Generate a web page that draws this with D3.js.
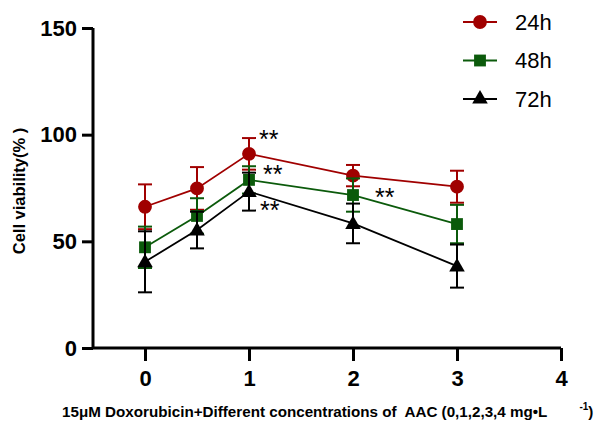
<!DOCTYPE html>
<html><head><meta charset="utf-8">
<script src="https://cdn.jsdelivr.net/npm/d3@7"></script>
<style>body{margin:0;background:#fff}svg{display:block}text{font-family:"Liberation Sans",Arial,sans-serif}</style>
</head><body>
<svg id="c" width="595" height="425"></svg>
<script>
const doses = [0, 0.5, 1, 2, 3];
const seriesNames = ["24h", "48h", "72h"];
const mean24 = [66.2, 74.8, 91.0, 80.8, 75.6];
const sd24   = [10.5, 10.0, 7.4, 5.0, 7.5];
const mean48 = [47.2, 61.9, 78.8, 71.7, 58.1];
const sd48   = [9.7, 8.3, 6.4, 7.8, 9.0];
const mean72 = [40.4, 55.3, 73.3, 58.4, 38.4];
const sd72   = [14.3, 8.6, 8.9, 9.3, 10.1];
const xTicks = [0, 1, 2, 3, 4];
const yTicks = [0, 50, 100, 150];
const sigMarks = [
  {series: "24h", dose: 1, label: "**"},
  {series: "48h", dose: 1, label: "**"},
  {series: "72h", dose: 1, label: "**"},
  {series: "48h", dose: 2, label: "**"}
];
const colors = {"24h": "#a00000", "48h": "#0b5a0b", "72h": "#000000"};
const shapes = {"24h": d3.symbolCircle, "48h": d3.symbolSquare, "72h": d3.symbolTriangle};
const symSize = {"24h": 150, "48h": 140, "72h": 105};

const series = [
  {name: "24h", mean: mean24, sd: sd24},
  {name: "48h", mean: mean48, sd: sd48},
  {name: "72h", mean: mean72, sd: sd72}
];

const svg = d3.select("#c");
const x = d3.scaleLinear().domain([-0.5, 4]).range([93, 561]);
const y = d3.scaleLinear().domain([0, 150]).range([348, 28]);

// axes
const yAxis = svg.append("g").attr("transform", "translate(93,0)")
  .call(d3.axisLeft(y).tickValues(yTicks).tickFormat(d3.format("d")).tickSize(11).tickPadding(5));
const xAxis = svg.append("g").attr("transform", "translate(0,348)")
  .call(d3.axisBottom(x).tickValues(xTicks).tickFormat(d3.format("d")).tickSize(13).tickPadding(9));
[yAxis, xAxis].forEach(a => {
  a.select(".domain").attr("stroke", "#000").attr("stroke-width", 3);
  a.selectAll(".tick line").attr("stroke", "#000").attr("stroke-width", 3);
  a.selectAll(".tick text").attr("fill", "#000").attr("font-size", 22).attr("font-weight", "bold")
    .style("font-family", "'Liberation Sans',Arial,sans-serif");
});
yAxis.select(".domain").attr("d", `M0,${y(150)}V${y(0)}`);
xAxis.select(".domain").attr("d", `M${x(-0.5)},0H${x(4)}`);

// series
series.forEach(s => {
  const g = svg.append("g");
  const c = colors[s.name];
  const pts = doses.map((d, i) => ({d, m: s.mean[i], sd: s.sd[i]}));
  pts.forEach(p => {
    const cx = x(p.d);
    g.append("line").attr("x1", cx).attr("x2", cx).attr("y1", y(p.m + p.sd)).attr("y2", y(p.m - p.sd))
      .attr("stroke", c).attr("stroke-width", 2);
    [p.m + p.sd, p.m - p.sd].forEach(v => {
      g.append("line").attr("x1", cx - 7).attr("x2", cx + 7).attr("y1", y(v)).attr("y2", y(v))
        .attr("stroke", c).attr("stroke-width", 2);
    });
  });
  g.append("path").datum(pts)
    .attr("d", d3.line().x(p => x(p.d)).y(p => y(p.m)))
    .attr("fill", "none").attr("stroke", c).attr("stroke-width", 1.8);
  g.selectAll("path.sym").data(pts).join("path").attr("class", "sym")
    .attr("transform", p => `translate(${x(p.d)},${y(p.m) + (s.name === "72h" ? 1 : 0)})`)
    .attr("d", d3.symbol(shapes[s.name], symSize[s.name])())
    .attr("fill", c);
});

// significance marks (placed relative to their point)
const sigOffset = {"24h|1": [10, -6], "48h|1": [14, 3], "72h|1": [11, 27], "48h|2": [22, 11]};
sigMarks.forEach(m => {
  const s = series.find(q => q.name === m.series);
  const i = doses.indexOf(m.dose);
  const off = sigOffset[m.series + "|" + m.dose];
  svg.append("text").attr("x", x(m.dose) + off[0]).attr("y", y(s.mean[i]) + off[1])
    .attr("font-size", 25).attr("fill", "#000").text(m.label);
});

// legend
series.forEach((s, i) => {
  const ly = 22 + i * 38.5;
  const c = colors[s.name];
  svg.append("line").attr("x1", 463).attr("x2", 497).attr("y1", ly).attr("y2", ly)
    .attr("stroke", c).attr("stroke-width", 2);
  svg.append("path").attr("transform", `translate(480,${ly})`)
    .attr("d", d3.symbol(shapes[s.name], symSize[s.name])()).attr("fill", c);
  svg.append("text").attr("x", 515).attr("y", ly).attr("dy", "0.36em")
    .attr("font-size", 22).attr("fill", "#000").text(s.name);
});

// axis titles
svg.append("text").attr("transform", "translate(25,191) rotate(-90)")
  .attr("text-anchor", "middle").attr("font-size", 16.5).attr("font-weight", "bold")
  .style("white-space", "pre")
  .text("Cell viability(% )");
const xt = svg.append("text").attr("x", 62).attr("y", 417)
  .attr("font-size", 15.2).attr("font-weight", "bold").style("white-space", "pre");
xt.append("tspan").text("15μM Doxorubicin+Different concentrations of  AAC (0,1,2,3,4 mg•L");
xt.append("tspan").attr("dx", 32).attr("dy", -7).attr("font-size", 10).text("-1");
xt.append("tspan").attr("dy", 7).text(")");
</script>
</body></html>
